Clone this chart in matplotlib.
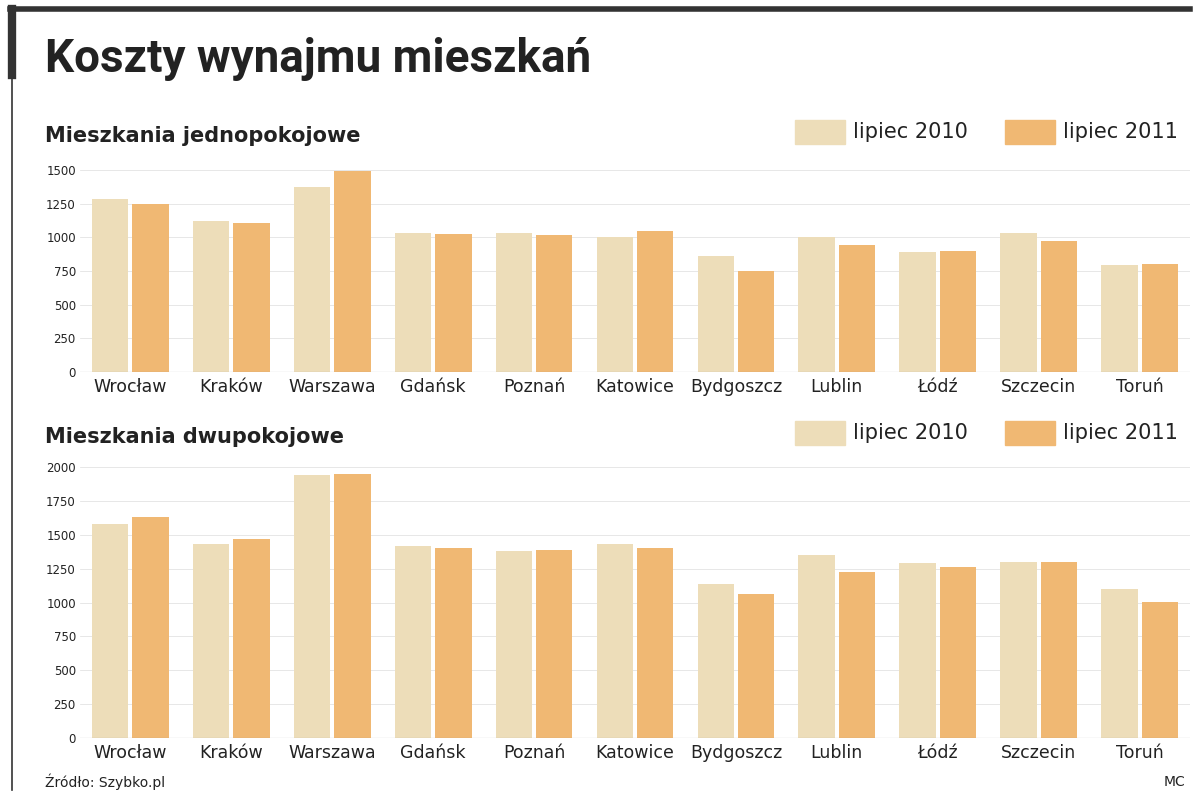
import matplotlib.pyplot as plt
from matplotlib.patches import Rectangle
from matplotlib.lines import Line2D

cities = ["Wrocław","Kraków","Warszawa","Gdańsk","Poznań","Katowice","Bydgoszcz","Lublin","Łódź","Szczecin","Toruń"]
one_2010 = [1285,1120,1375,1035,1030,1005,860,1000,890,1030,795]
one_2011 = [1245,1105,1490,1025,1020,1045,750,945,900,975,805]
two_2010 = [1580,1430,1940,1420,1380,1430,1140,1350,1290,1300,1100]
two_2011 = [1630,1470,1950,1400,1390,1400,1060,1225,1260,1300,1005]
series_labels = ["lipiec 2010","lipiec 2011"]
c1, c2 = "#EDDDB9", "#F0B873"

W, H = 1200, 797
fig = plt.figure(figsize=(12, 7.97), dpi=100)
def fx(x): return x / W
def fy(y): return 1 - y / H

# frame
fig.add_artist(Line2D([fx(10), fx(1190)], [fy(9), fy(9)], color="#333", lw=4))
fig.add_artist(Line2D([fx(12), fx(12)], [fy(9), fy(75)], color="#333", lw=6))
fig.add_artist(Line2D([fx(12), fx(12)], [fy(75), fy(790)], color="#333", lw=1.2))
fig.text(fx(45), fy(72), "Koszty wynajmu mieszkań", fontsize=33, fontweight="bold",
         family="Roboto", fontstretch="condensed", color="#222", va="baseline")

def panel(top, bottom, title, ty, v1, v2, ymax, step):
    ax = fig.add_axes([fx(80), fy(bottom), fx(1190) - fx(80), fy(top) - fy(bottom)])
    n = len(cities)
    xs = range(n)
    w = 0.36
    ax.bar([x - 0.2 for x in xs], v1, w, color=c1)
    ax.bar([x + 0.2 for x in xs], v2, w, color=c2)
    ax.set_xlim(-0.5, n - 0.5)
    ax.set_ylim(0, ymax)
    ax.set_yticks(range(0, ymax + 1, step))
    ax.tick_params(axis="y", length=0, labelsize=8.5, pad=3, colors="#222")
    ax.set_xticks(list(xs))
    ax.set_xticklabels(cities, fontsize=12.5, color="#222")
    ax.tick_params(axis="x", length=0, pad=4)
    for s in ax.spines.values():
        s.set_visible(False)
    ax.axhline(0, color="#888", lw=0.8)
    ax.grid(axis="y", color="#ddd", lw=0.5)
    ax.set_axisbelow(True)
    fig.text(fx(45), fy(ty), title, fontsize=15, fontweight="bold", color="#222", va="baseline")
    ly = ty - 10
    for i, (c, lab) in enumerate(zip([c1, c2], series_labels)):
        x0 = 795 + i * 210
        fig.add_artist(Rectangle((fx(x0), fy(ly + 12)), fx(50), fy(0) - fy(24), color=c,
                                 transform=fig.transFigure))
        fig.text(fx(x0 + 58), fy(ly), lab, fontsize=15, color="#222", va="center")

panel(170, 372, "Mieszkania jednopokojowe", 142, one_2010, one_2011, 1500, 250)
panel(467, 738, "Mieszkania dwupokojowe", 443, two_2010, two_2011, 2000, 250)

fig.text(fx(45), fy(782), "Źródło: Szybko.pl", fontsize=10, color="#222", va="center")
fig.text(fx(1185), fy(782), "MC", fontsize=10, color="#222", va="center", ha="right")
fig.savefig("out.png", dpi=100, facecolor="white")
